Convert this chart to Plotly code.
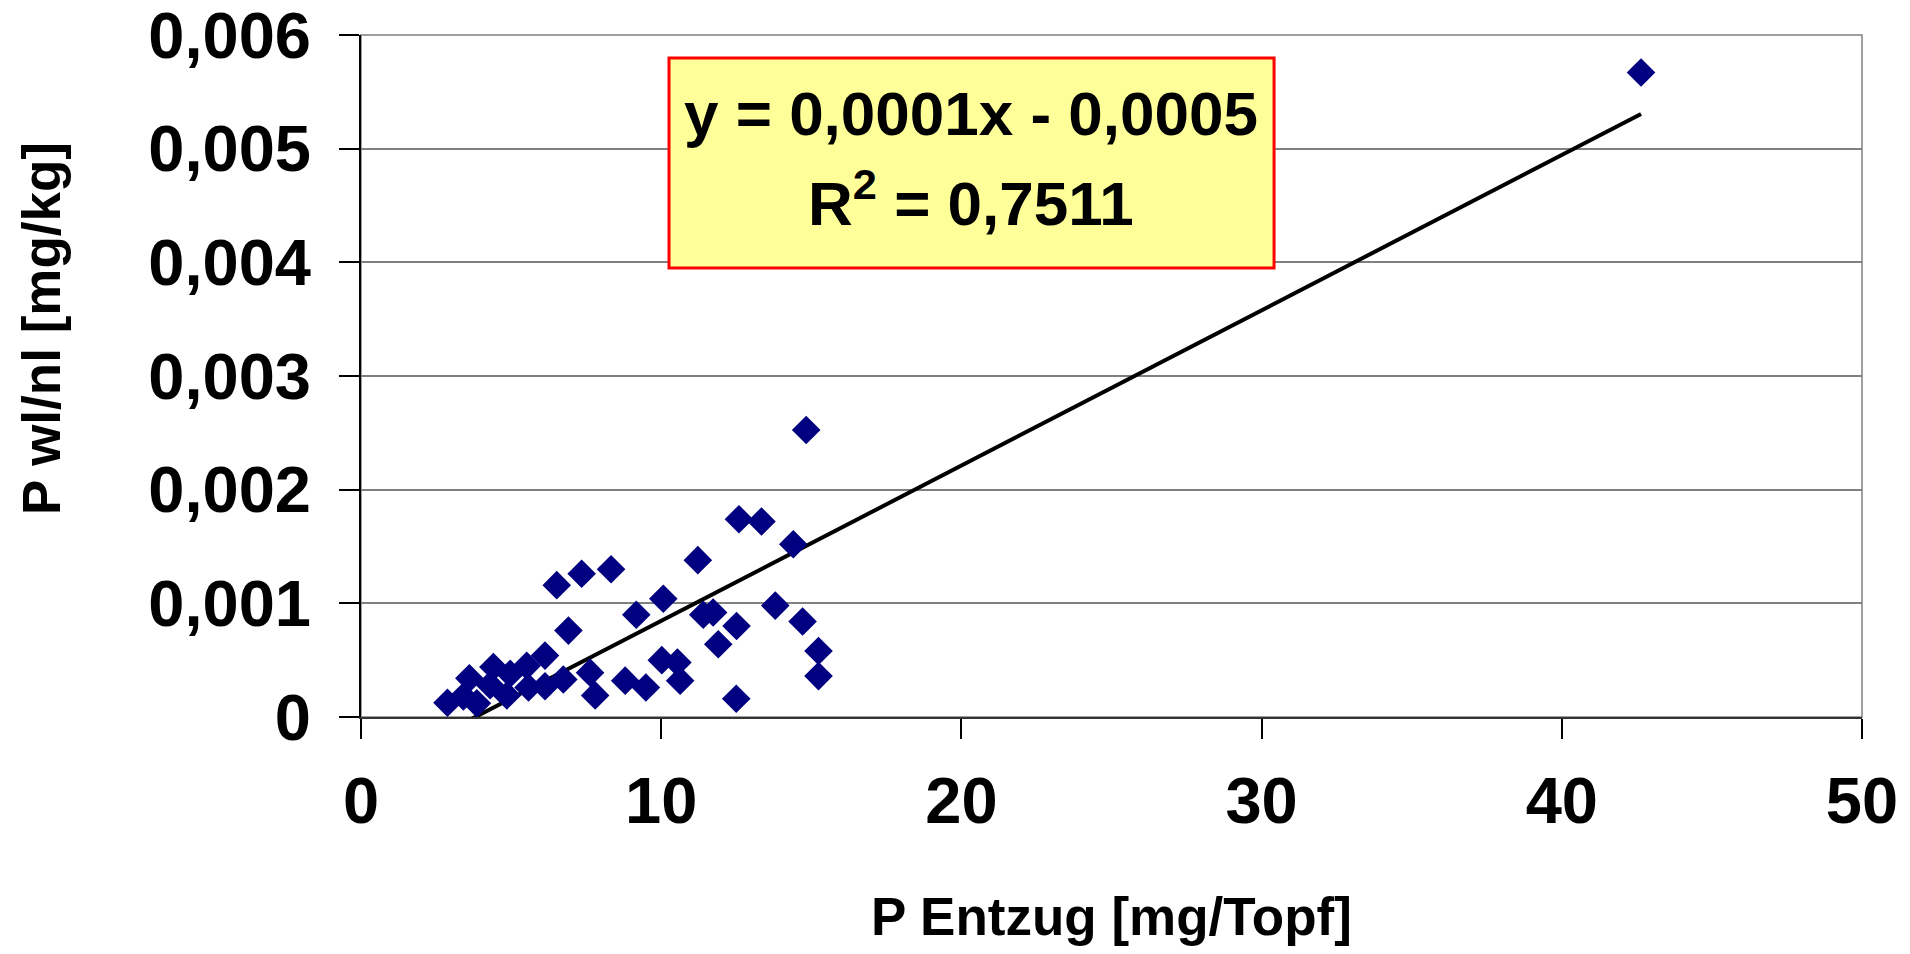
import plotly.graph_objects as go
import numpy as np

# ---- data ----
p_entzug = [2.88, 3.41, 3.61, 3.86, 4.30, 4.41, 4.86, 4.97, 5.52, 5.58,
            6.13, 6.13, 6.74, 6.91, 7.63, 7.80, 8.80, 9.49, 10.02, 10.54,
            10.63, 12.50, 15.24, 15.24, 11.90, 12.51, 14.71, 11.40, 11.73, 9.17,
            13.80, 10.07, 6.52, 7.35, 8.33, 11.22, 14.40, 12.59, 13.34, 14.83,
            42.64]
p_wlnl = [0.000126, 0.00018, 0.00034, 0.00012, 0.00028, 0.00044, 0.00019, 0.00038, 0.00045, 0.00026,
          0.00054, 0.00027, 0.00033, 0.00076, 0.00039, 0.00019, 0.00032, 0.00026, 0.00050, 0.00048,
          0.00032, 0.00016, 0.00036, 0.00058, 0.00064, 0.00080, 0.00084, 0.00090, 0.00092, 0.00090,
          0.00098, 0.00104, 0.00116, 0.00126, 0.00130, 0.00138, 0.00152, 0.00174, 0.00172, 0.002525,
          0.00567]

trend_slope = 0.0001366
trend_intercept = -0.00052

x_tickvals = [0, 10, 20, 30, 40, 50]
x_ticktext = ["0", "10", "20", "30", "40", "50"]
y_tickvals = [0, 0.001, 0.002, 0.003, 0.004, 0.005, 0.006]
y_ticktext = ["0", "0,001", "0,002", "0,003", "0,004", "0,005", "0,006"]

eq_text = "y = 0,0001x - 0,0005"
r2_text = "R<sup>2</sup> = 0,7511"
x_title = "P Entzug [mg/Topf]"
y_title = "P wl/nl [mg/kg]"

FONT = "Liberation Sans, Arial, sans-serif"

fig = go.Figure()

tx = np.array([min(p_entzug), max(p_entzug)])
fig.add_trace(go.Scatter(
    x=tx, y=trend_slope * tx + trend_intercept, mode="lines",
    line=dict(color="black", width=4), showlegend=False, hoverinfo="skip"))

fig.add_trace(go.Scatter(
    x=p_entzug, y=p_wlnl, mode="markers",
    marker=dict(symbol="diamond", size=22, color="#000080", line=dict(width=0)),
    cliponaxis=False, showlegend=False))

fig.update_layout(
    width=1894, height=938,
    margin=dict(l=353, r=40, t=27, b=229, autoexpand=False),
    paper_bgcolor="white", plot_bgcolor="white",
    font=dict(family=FONT, color="black"),
    xaxis=dict(range=[0, 50], tickvals=x_tickvals, ticktext=x_ticktext,
               automargin=False,
               showgrid=False, zeroline=False,
               showline=True, linecolor="#333333", linewidth=2,
               ticks="outside", ticklen=20, tickwidth=1.5, tickcolor="black",
               ticklabelstandoff=6, ticklabeloverflow="allow",
               tickfont=dict(family=FONT, size=65, weight="bold", color="black")),
    yaxis=dict(range=[0, 0.006], tickvals=y_tickvals, ticktext=y_ticktext,
               automargin=False,
               showgrid=True, gridcolor="#808080", gridwidth=1.5, zeroline=False,
               showline=True, linecolor="black", linewidth=2,
               ticks="outside", ticklen=20, tickwidth=1.5, tickcolor="black",
               ticklabelstandoff=15, ticklabeloverflow="allow",
               tickfont=dict(family=FONT, size=65, weight="bold", color="black")),
    shapes=[
        dict(type="rect", xref="paper", yref="paper", x0=0, x1=1, y0=0, y1=1,
             line=dict(color="#808080", width=1.5), layer="below"),
        dict(type="rect", xref="paper", yref="paper",
             x0=0.2052, x1=0.6083, y0=0.6584, y1=0.9663,
             fillcolor="#FFFF99", line=dict(color="#FF0000", width=3), layer="above"),
    ],
    annotations=[
        dict(text=eq_text, xref="paper", yref="paper", x=0.4067, y=0.8856,
             xanchor="center", yanchor="middle", showarrow=False,
             font=dict(family=FONT, size=62, weight="bold", color="black")),
        dict(text=r2_text, xref="paper", yref="paper", x=0.4067, y=0.760,
             xanchor="center", yanchor="middle", showarrow=False,
             font=dict(family=FONT, size=62, weight="bold", color="black")),
        dict(text=x_title, xref="paper", yref="paper", x=0.4997, y=-0.293,
             xanchor="center", yanchor="middle", showarrow=False,
             font=dict(family=FONT, size=53, weight="bold", color="black")),
        dict(text=y_title, xref="paper", yref="paper", x=-0.2125, y=0.569,
             xanchor="center", yanchor="middle", showarrow=False, textangle=-90,
             font=dict(family=FONT, size=53, weight="bold", color="black")),
    ],
)

fig.write_html("out.html")
